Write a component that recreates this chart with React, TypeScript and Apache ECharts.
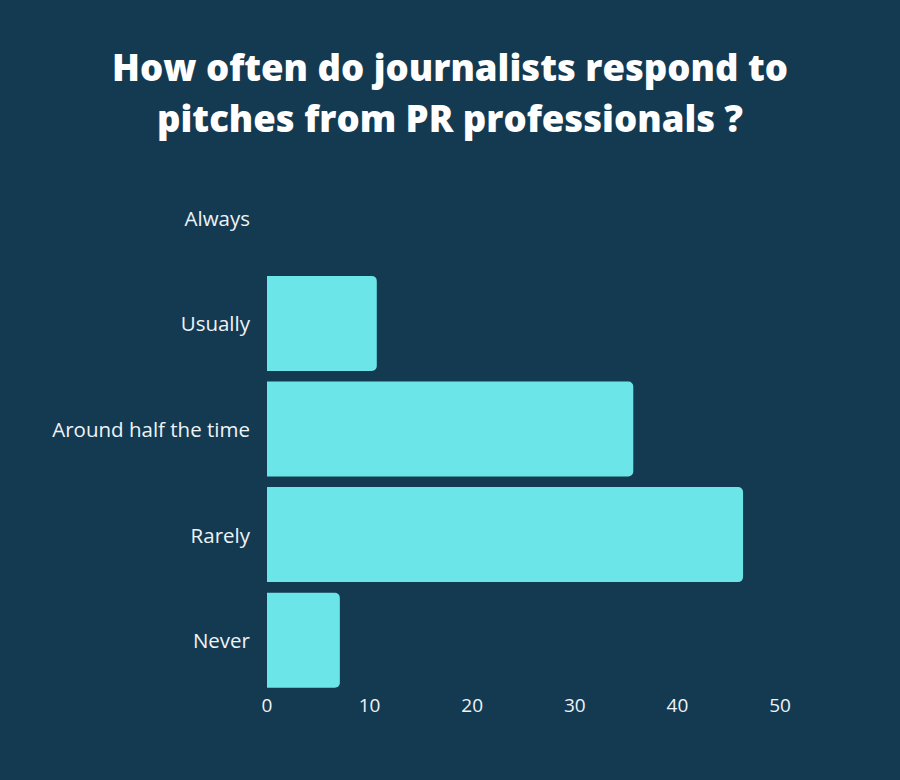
import React, { useEffect, useRef } from "react";
import * as echarts from "echarts";

const titleLines = ["How often do journalists respond to", "pitches from PR professionals ?"];
const categories = ["Always", "Usually", "Around half the time", "Rarely", "Never"];
const values = [0, 10.7, 35.7, 46.4, 7.1];
const xTicks = [0, 10, 20, 30, 40, 50];

export default function App() {
  const ref = useRef<HTMLDivElement>(null);
  useEffect(() => {
    document.body.style.margin = "0";
    document.body.style.background = "#143a52";
    if (!ref.current) return;
    const chart = echarts.init(ref.current, undefined, { renderer: "svg" });
    chart.setOption({
      animation: false,
      backgroundColor: "#143a52",
      title: {
        text: titleLines.join("\n"),
        left: "center",
        top: 36,
        textStyle: {
          color: "#ffffff",
          fontFamily: "Open Sans",
          fontWeight: 800,
          fontSize: 36.5,
          lineHeight: 51,
        },
      },
      grid: { left: 267, right: 120, top: 165, bottom: 87, containLabel: false },
      xAxis: {
        type: "value",
        min: xTicks[0],
        max: xTicks[xTicks.length - 1],
        interval: 10,
        axisLine: { show: false },
        axisTick: { show: false },
        splitLine: { show: false },
        axisLabel: {
          color: "#eef3f6",
          fontFamily: "Open Sans",
          fontSize: 19,
          margin: 2,
        },
      },
      yAxis: {
        type: "category",
        data: categories,
        inverse: true,
        axisLine: { show: false },
        axisTick: { show: false },
        splitLine: { show: false },
        axisLabel: {
          color: "#eef3f6",
          fontFamily: "Open Sans",
          fontSize: 20.5,
          margin: 17,
          padding: [0, 0, 4, 0],
        },
      },
      series: [
        {
          type: "bar",
          data: values,
          barCategoryGap: "10%",
          itemStyle: { color: "#6ce5e8", borderRadius: [0, 5, 5, 0] },
        },
      ],
    });
    return () => chart.dispose();
  }, []);
  return <div ref={ref} style={{ width: 900, height: 780 }} />;
}
